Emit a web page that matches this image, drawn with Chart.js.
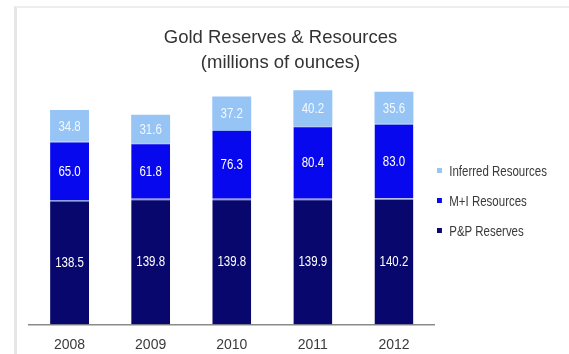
<!DOCTYPE html>
<html>
<head>
<meta charset="utf-8">
<script src="https://cdn.jsdelivr.net/npm/chart.js@4.4.0/dist/chart.umd.min.js"></script>
<style>
  body { margin: 0; background: #fff; }
  #wrap { position: relative; width: 569px; height: 354px; overflow: hidden; background: #fff; }
  #frame { position: absolute; left: 14px; top: 6px; right: -4px; bottom: -4px;
           border-left: 3px solid #e6e6e6; border-top: 2px solid #eeeeee; }
  #title { position: absolute; left: 0; top: 24px; width: 561px; text-align: center;
           font: 18.5px "Liberation Sans", Arial, sans-serif; line-height: 25px; color: #333; }
  #legend { position: absolute; left: 437px; top: 164px; margin: 0; padding: 0; list-style: none;
            font: 14px "Liberation Sans", Arial, sans-serif; color: #3a3a3a;
            transform: scaleX(0.82); transform-origin: 0 0; }
  #legend li { height: 30px; line-height: 14px; white-space: nowrap; }
  #legend span { display: inline-block; width: 6px; height: 5px; margin-right: 9px; vertical-align: 3px; }
  canvas { position: absolute; left: 0; top: 0; }
</style>
</head>
<body>
<div id="wrap">
  <div id="frame"></div>
  <canvas id="reservesChart" width="569" height="354"></canvas>
  <div id="title">Gold Reserves &amp; Resources<br>(millions of ounces)</div>
  <ul id="legend"></ul>
</div>
<script>
// Gold reserves and resources by year (millions of ounces)
const years = ["2008", "2009", "2010", "2011", "2012"];
const ppReserves = [138.5, 139.8, 139.8, 139.9, 140.2];
const miResources = [65.0, 61.8, 76.3, 80.4, 83.0];
const inferredResources = [34.8, 31.6, 37.2, 40.2, 35.6];

const sansFont = '"Liberation Sans", Arial, sans-serif';

// write each segment's value in the middle of its bar piece (squeezed a bit, narrow look)
const segmentLabels = {
    id: "segmentLabels",
    afterDatasetsDraw(chart) {
        const ctx = chart.ctx;
        chart.data.datasets.forEach((ds, i) => {
            const meta = chart.getDatasetMeta(i);
            meta.data.forEach((bar, j) => {
                ctx.save();
                ctx.font = "14px " + sansFont;
                ctx.textAlign = "center";
                ctx.textBaseline = "middle";
                ctx.fillStyle = ds.valueColor;
                ctx.translate(bar.x, (bar.y + bar.base) / 2 + 1);
                ctx.scale(0.82, 1);
                ctx.fillText(ds.data[j].toFixed(1), 0, 0);
                ctx.restore();
            });
        });
    }
};

const ctx = document.getElementById("reservesChart").getContext("2d");
const chart = new Chart(ctx, {
    type: "bar",
    data: {
        labels: years,
        datasets: [{
            label: "P&P Reserves",
            data: ppReserves,
            backgroundColor: "#07076e",
            borderColor: "#8f9fe8",
            borderWidth: { top: 1.5, left: 0, right: 0, bottom: 0 },
            borderSkipped: false,
            valueColor: "#ffffff"
        }, {
            label: "M+I Resources",
            data: miResources,
            backgroundColor: "#0808ee",
            borderColor: "#8fb0f0",
            borderWidth: { top: 1, left: 0, right: 0, bottom: 0 },
            borderSkipped: false,
            valueColor: "#ffffff"
        }, {
            label: "Inferred Resources",
            data: inferredResources,
            backgroundColor: "#96c4f5",
            borderWidth: 0,
            valueColor: "#f4f8ff"
        }]
    },
    options: {
        responsive: false,
        animation: false,
        layout: { padding: { top: 78, left: 29, right: 134.5, bottom: 0 } },
        datasets: { bar: { categoryPercentage: 0.96, barPercentage: 0.5 } },
        scales: {
            x: {
                stacked: true,
                grid: { display: false, drawTicks: false },
                border: { display: true, color: "#8a8a8a", width: 1.5 },
                ticks: { color: "#3a3a3a", padding: 12, font: { size: 14, family: sansFont } },
                // fixed axis band so the baseline sits just above the year labels
                afterFit(scale) { scale.height = 29.5; }
            },
            y: {
                stacked: true,
                display: false,
                min: 0,
                max: 274
            }
        },
        plugins: {
            legend: { display: false },
            title: { display: false },
            tooltip: { enabled: false }
        }
    },
    plugins: [segmentLabels]
});

// legend on the right, top item first
const legendList = document.getElementById("legend");
chart.data.datasets.slice().reverse().forEach(ds => {
    const item = document.createElement("li");
    const box = document.createElement("span");
    box.style.background = ds.backgroundColor;
    item.appendChild(box);
    item.appendChild(document.createTextNode(ds.label));
    legendList.appendChild(item);
});
</script>
</body>
</html>
